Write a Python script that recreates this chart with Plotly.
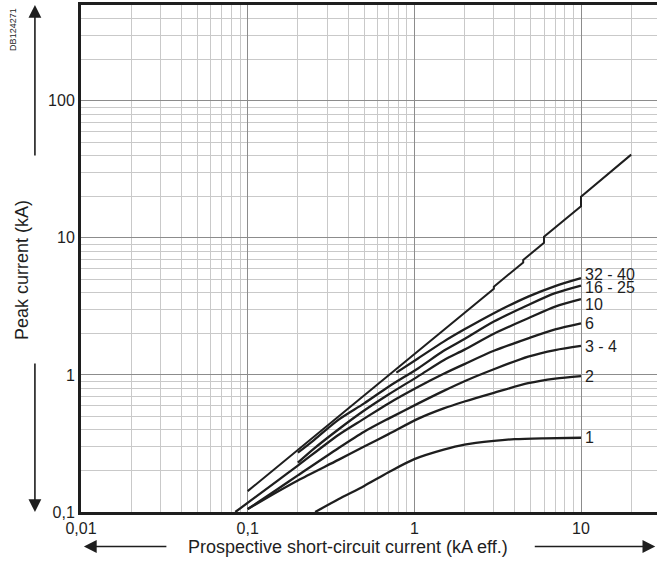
import math

import plotly.graph_objects as go

# ───────── data (kA) ─────────

# unlimited prospective peak (steps where the power factor changes)
unlim_x = [0.1, 1.5, 3.0, 3.0, 4.5, 4.5, 6.0, 6.0, 10.0, 10.0, 20.0]
unlim_y = [0.142, 2.12, 4.26, 4.41, 6.62, 6.9, 9.2, 10.2, 17.0, 20.0, 40.5]

curves = {
    "32 - 40": ([0.78, 1.057, 1.5, 2, 3, 4.82, 7, 10],
                [1.04, 1.325, 1.75, 2.15, 2.82, 3.73, 4.45, 5.08]),
    "16 - 25": ([0.2, 0.25, 0.35, 0.5, 0.7, 1.057, 1.5, 2, 3, 4.82, 7, 10],
                [0.271, 0.335, 0.47, 0.62, 0.82, 1.12, 1.5, 1.83, 2.45, 3.24, 3.95, 4.49]),
    "10":      ([0.2, 0.25, 0.35, 0.5, 0.7, 1.057, 1.5, 2, 3, 4.82, 7, 10],
                [0.229, 0.29, 0.40, 0.55, 0.72, 0.98, 1.28, 1.53, 2.0, 2.59, 3.15, 3.57]),
    "6":       ([0.0843, 0.15, 0.2, 0.35, 0.5, 0.7, 1.057, 1.5, 2, 3, 4.82, 7, 10],
                [0.1, 0.168, 0.218, 0.365, 0.48, 0.62, 0.82, 1.02, 1.2, 1.5, 1.85, 2.15, 2.38]),
    "3 - 4":   ([0.1, 0.15, 0.2, 0.35, 0.5, 0.7, 1.057, 1.5, 2, 3, 4.82, 7, 10],
                [0.105, 0.146, 0.185, 0.292, 0.385, 0.48, 0.62, 0.765, 0.9, 1.1, 1.36, 1.52, 1.63]),
    "2":       ([0.1, 0.15, 0.2, 0.35, 0.5, 0.7, 1.057, 1.5, 2, 3, 4.82, 7, 10],
                [0.105, 0.14, 0.17, 0.24, 0.30, 0.37, 0.48, 0.57, 0.64, 0.74, 0.87, 0.94, 0.98]),
    "1":       ([0.254, 0.35, 0.5, 0.7, 1, 1.5, 2, 3, 4, 6, 10],
                [0.1, 0.124, 0.155, 0.195, 0.243, 0.285, 0.31, 0.33, 0.34, 0.345, 0.348]),
}

x_ticks = [0.01, 0.1, 1, 10]
x_ticktext = ["0,01", "0,1", "1", "10"]
y_ticks = [0.1, 1, 10, 100]
y_ticktext = ["0,1", "1", "10", "100"]

# small vertical nudges (px) so the end labels do not collide
label_shift = {"32 - 40": 4, "16 - 25": -2, "10": -5, "6": 0, "3 - 4": -1, "2": 0, "1": 0}

# ───────── figure ─────────

INK = "#1e1e1e"
FONT = "Liberation Sans, Arial, sans-serif"

fig = go.Figure()

fig.add_trace(go.Scatter(
    x=unlim_x, y=unlim_y, mode="lines",
    line=dict(color=INK, width=2), showlegend=False, hoverinfo="skip",
))

for name, (xs, ys) in curves.items():
    fig.add_trace(go.Scatter(
        x=xs, y=ys, mode="lines",
        line=dict(color=INK, width=2.3, shape="spline", smoothing=0.8),
        name=name, showlegend=False,
    ))
    # annotations on log axes take log10 positions
    fig.add_annotation(
        x=math.log10(xs[-1]), y=math.log10(ys[-1]), xref="x", yref="y",
        text=name, showarrow=False, xanchor="left", yanchor="middle",
        xshift=2, yshift=label_shift[name],
        font=dict(size=16, color=INK, family=FONT),
    )

# axis arrows + titles (outside the plot area)
arrow = dict(xref="paper", yref="paper", axref="pixel", ayref="pixel",
             text="", showarrow=True, arrowhead=2, arrowsize=1.6,
             arrowwidth=1.6, arrowcolor=INK)
fig.add_annotation(x=-0.080, y=1.0, ax=0, ay=152, **arrow)
fig.add_annotation(x=-0.080, y=0.0, ax=0, ay=-150, **arrow)
fig.add_annotation(x=0.005, y=-0.068, ax=84, ay=0, **arrow)
fig.add_annotation(x=0.997, y=-0.068, ax=-122, ay=0, **arrow)

fig.add_annotation(
    x=0.4635, y=-0.069, xref="paper", yref="paper", showarrow=False,
    text="Prospective short-circuit current (kA eff.)",
    font=dict(size=18, color=INK, family=FONT),
    xanchor="center", yanchor="middle",
)
fig.add_annotation(
    x=-0.1025, y=0.477, xref="paper", yref="paper", showarrow=False,
    text="Peak current (kA)", textangle=-90,
    font=dict(size=18, color=INK, family=FONT),
    xanchor="center", yanchor="middle",
)
fig.add_annotation(
    x=-0.118, y=0.951, xref="paper", yref="paper", showarrow=False,
    text="DB124271", textangle=-90,
    font=dict(size=9, color=INK, family=FONT),
    xanchor="center", yanchor="middle",
)

grid_minor = dict(dtick="D1", showgrid=True, gridcolor="#c9c9c9", gridwidth=1.3, ticks="")

fig.update_xaxes(
    type="log", range=[-2, 1.456],
    tickvals=x_ticks, ticktext=x_ticktext,
    showgrid=True, gridcolor="#8c8c8c", gridwidth=1.3,
    minor=grid_minor,
    showline=True, linecolor=INK, linewidth=3, mirror=True,
    ticks="", zeroline=False,
    tickfont=dict(size=16, color=INK, family=FONT),
)
fig.update_yaxes(
    type="log", range=[-1, 2.699],
    tickvals=y_ticks, ticktext=y_ticktext,
    showgrid=True, gridcolor="#8c8c8c", gridwidth=1.3,
    minor=grid_minor,
    showline=True, linecolor=INK, linewidth=3,
    ticks="", zeroline=False,
    tickfont=dict(size=16, color=INK, family=FONT),
)

fig.update_layout(
    width=657, height=562,
    margin=dict(l=81, r=0, t=5, b=50),
    paper_bgcolor="white", plot_bgcolor="white",
    font=dict(family=FONT, color=INK),
    showlegend=False,
)

# the page body has a default 8px margin; drop it so the plot sits at 0,0
fig.write_html(
    "out.html",
    config={"displayModeBar": False},
    post_script="document.body.style.margin='0px';",
)
